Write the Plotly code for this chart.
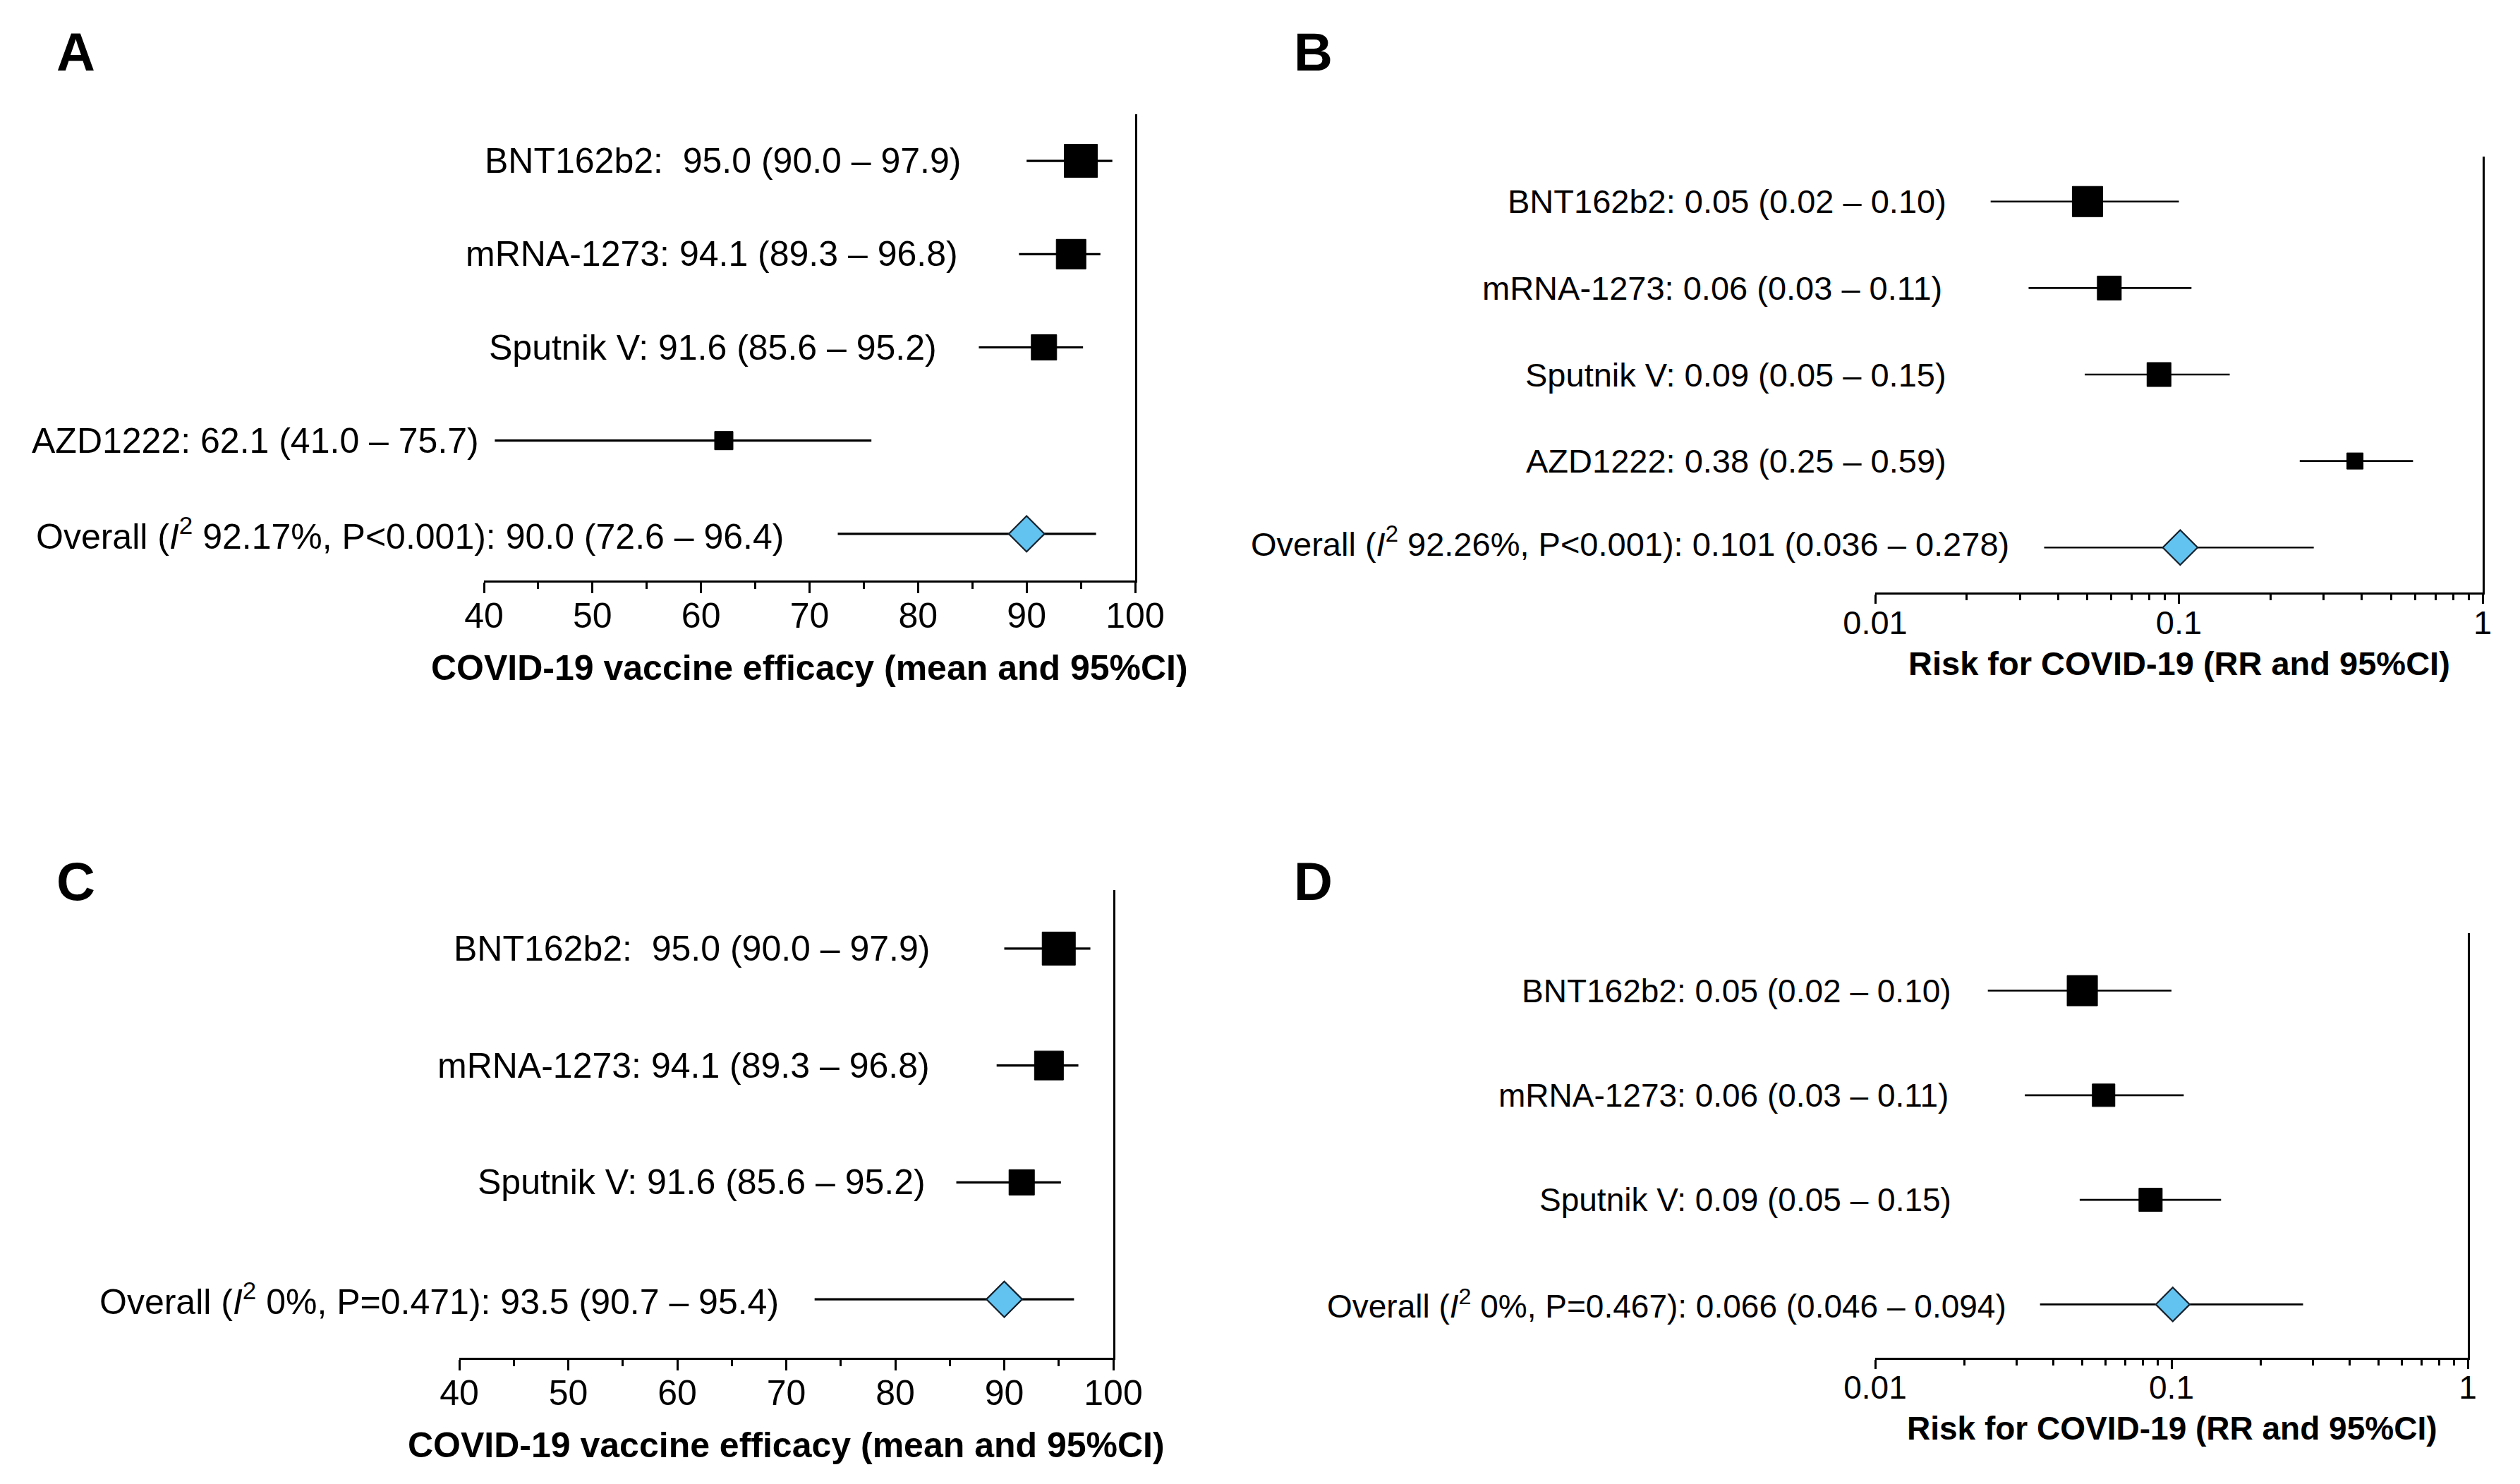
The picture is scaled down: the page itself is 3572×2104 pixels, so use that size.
import plotly.graph_objects as go

W, H = 3572, 2104
FONT = "Liberation Sans, Arial, Helvetica, sans-serif"

# ---------------- data ----------------
# Panel A: vaccine efficacy, all four vaccines
NAMES_A = ["BNT162b2", "mRNA-1273", "Sputnik V", "AZD1222", "Overall"]
MEAN_A = [95.0, 94.1, 91.6, 62.1, 90.0]
LO_A = [90.0, 89.3, 85.6, 41.0, 72.6]
HI_A = [97.9, 96.8, 95.2, 75.7, 96.4]
LABELS_A = [
    "BNT162b2:\u00a0 95.0 (90.0 \u2013 97.9)",
    "mRNA-1273: 94.1 (89.3 \u2013 96.8)",
    "Sputnik V: 91.6 (85.6 \u2013 95.2)",
    "AZD1222: 62.1 (41.0 \u2013 75.7)",
    "Overall (<i>I</i><sup>2</sup> 92.17%, P&lt;0.001): 90.0 (72.6 \u2013 96.4)",
]

# Panel B: risk ratio, all four vaccines
NAMES_B = ["BNT162b2", "mRNA-1273", "Sputnik V", "AZD1222", "Overall"]
MEAN_B = [0.050, 0.059, 0.086, 0.38, 0.101]
LO_B = [0.024, 0.032, 0.049, 0.25, 0.036]
HI_B = [0.10, 0.11, 0.147, 0.59, 0.278]
LABELS_B = [
    "BNT162b2: 0.05 (0.02 \u2013 0.10)",
    "mRNA-1273: 0.06 (0.03 \u2013 0.11)",
    "Sputnik V: 0.09 (0.05 \u2013 0.15)",
    "AZD1222: 0.38 (0.25 \u2013 0.59)",
    "Overall (<i>I</i><sup>2</sup> 92.26%, P&lt;0.001): 0.101 (0.036 \u2013 0.278)",
]

# Panel C: vaccine efficacy, without AZD1222
NAMES_C = ["BNT162b2", "mRNA-1273", "Sputnik V", "Overall"]
MEAN_C = [95.0, 94.1, 91.6, 90.0]
LO_C = [90.0, 89.3, 85.6, 72.6]
HI_C = [97.9, 96.8, 95.2, 96.4]
LABELS_C = [
    "BNT162b2:\u00a0 95.0 (90.0 \u2013 97.9)",
    "mRNA-1273: 94.1 (89.3 \u2013 96.8)",
    "Sputnik V: 91.6 (85.6 \u2013 95.2)",
    "Overall (<i>I</i><sup>2</sup> 0%, P=0.471): 93.5 (90.7 \u2013 95.4)",
]

# Panel D: risk ratio, without AZD1222
NAMES_D = ["BNT162b2", "mRNA-1273", "Sputnik V", "Overall"]
MEAN_D = [0.050, 0.059, 0.085, 0.101]
LO_D = [0.024, 0.032, 0.049, 0.036]
HI_D = [0.10, 0.11, 0.147, 0.278]
LABELS_D = [
    "BNT162b2: 0.05 (0.02 \u2013 0.10)",
    "mRNA-1273: 0.06 (0.03 \u2013 0.11)",
    "Sputnik V: 0.09 (0.05 \u2013 0.15)",
    "Overall (<i>I</i><sup>2</sup> 0%, P=0.467): 0.066 (0.046 \u2013 0.094)",
]

EFF_TICKS = [40, 50, 60, 70, 80, 90, 100]
RR_TICKS = [0.01, 0.1, 1]
RR_TICKTEXT = ["0.01", "0.1", "1"]
RR_MINOR = [0.02, 0.03, 0.04, 0.05, 0.06, 0.07, 0.08, 0.09,
            0.2, 0.3, 0.4, 0.5, 0.6, 0.7, 0.8, 0.9]

# ---------------- layout / style per panel ----------------
panels = [
    dict(key="A", names=NAMES_A, mean=MEAN_A, lo=LO_A, hi=HI_A, labels=LABELS_A,
         log=False, xdom=(686, 1609), ydom=(162, 823), yrange=(0.5, 5.5),
         sizes=[47, 42, 36, 26, 39], fs=50, title="COVID-19 vaccine efficacy (mean and 95%CI)",
         title_off=124, label_right=[1364, 1360, 1330, 681, 1113], lw=3.2,
         letter_xy=(78, 73), standoff=-11, overall_shift=0),
    dict(key="B", names=NAMES_B, mean=MEAN_B, lo=LO_B, hi=HI_B, labels=LABELS_B,
         log=True, xdom=(2658, 3519), ydom=(222, 840), yrange=(0.48, 5.52),
         sizes=[43, 34, 34, 23, 38], fs=47, title="Risk for COVID-19 (RR and 95%CI)",
         title_off=100, label_right=[2761, 2755, 2761, 2761, 2850], lw=2.6,
         letter_xy=(1832, 73), standoff=-13, overall_shift=8),
    dict(key="C", names=NAMES_C, mean=MEAN_C, lo=LO_C, hi=HI_C, labels=LABELS_C,
         log=False, xdom=(651, 1578), ydom=(1262, 1925), yrange=(0.5, 4.5),
         sizes=[47, 41, 36, 39], fs=50, title="COVID-19 vaccine efficacy (mean and 95%CI)",
         title_off=124, label_right=[1320, 1320, 1314, 1106], lw=3.2,
         letter_xy=(78, 1249), standoff=-11, overall_shift=0),
    dict(key="D", names=NAMES_D, mean=MEAN_D, lo=LO_D, hi=HI_D, labels=LABELS_D,
         log=True, xdom=(2658, 3498), ydom=(1323, 1925), yrange=(0.49, 4.55),
         sizes=[43, 32, 33, 37], fs=46, title="Risk for COVID-19 (RR and 95%CI)",
         title_off=100, label_right=[2768, 2764, 2768, 2846], lw=2.6,
         letter_xy=(1832, 1249), standoff=-13, overall_shift=0),
]

DIAMOND_FILL = "#62C3F0"

fig = go.Figure()
annotations = []
layout = {}

for i, p in enumerate(panels, start=1):
    xa = "x" if i == 1 else f"x{i}"
    ya = "y" if i == 1 else f"y{i}"
    n = len(p["names"])
    ypos = list(range(n, 0, -1))

    # CI lines
    lx, ly = [], []
    for lo, hi, yy in zip(p["lo"], p["hi"], ypos):
        lx += [lo, hi, None]
        ly += [yy, yy, None]
    fig.add_trace(go.Scatter(x=lx, y=ly, mode="lines", xaxis=xa, yaxis=ya,
                             line=dict(color="black", width=p["lw"]),
                             hoverinfo="skip", showlegend=False, cliponaxis=False))
    # study squares
    fig.add_trace(go.Scatter(x=p["mean"][:-1], y=ypos[:-1], mode="markers",
                             xaxis=xa, yaxis=ya, showlegend=False, cliponaxis=False,
                             marker=dict(symbol="square", size=p["sizes"][:-1],
                                         color="#000000", opacity=1,
                                         line=dict(width=1, color="#000000"))))
    # pooled diamond
    fig.add_trace(go.Scatter(x=[p["mean"][-1]], y=[ypos[-1]], mode="markers",
                             xaxis=xa, yaxis=ya, showlegend=False, cliponaxis=False,
                             marker=dict(symbol="diamond", size=p["sizes"][-1],
                                         color=DIAMOND_FILL, opacity=1,
                                         line=dict(width=2.2, color="#15202b"))))

    x0, x1 = p["xdom"]
    yt, yb = p["ydom"]
    xaxis = dict(domain=[x0 / W, x1 / W], anchor=ya, showgrid=False, zeroline=False,
                 automargin=False,
                 showline=True, linecolor="black", linewidth=3,
                 ticks="outside", ticklen=15, tickwidth=3, tickcolor="black",
                 ticklabelstandoff=p["standoff"],
                 tickfont=dict(family=FONT, size=p["fs"], color="black"),
                 fixedrange=True)
    if p["log"]:
        xaxis.update(type="log", range=[-2, 0], tickvals=RR_TICKS, ticktext=RR_TICKTEXT,
                     ticklen=13,
                     minor=dict(tickvals=RR_MINOR, ticks="outside", ticklen=8,
                                tickwidth=2.5, tickcolor="black", showgrid=False))
    else:
        xaxis.update(range=[40, 100], tickvals=EFF_TICKS,
                     minor=dict(dtick=5, ticks="outside", ticklen=9, tickwidth=3,
                                tickcolor="black", showgrid=False))
    yaxis = dict(domain=[1 - yb / H, 1 - yt / H], anchor=xa, side="right",
                 automargin=False,
                 range=list(p["yrange"]), showgrid=False, zeroline=False,
                 showline=True, linecolor="black", linewidth=2.6,
                 showticklabels=False, ticks="", fixedrange=True)
    layout[f"xaxis{'' if i == 1 else i}"] = xaxis
    layout[f"yaxis{'' if i == 1 else i}"] = yaxis

    # row labels
    for k, (lab, yy, xr) in enumerate(zip(p["labels"], ypos, p["label_right"])):
        ysh = p["overall_shift"] if k == n - 1 else 0
        annotations.append(dict(text=lab, xref="paper", x=xr / W, xanchor="right",
                                yref=ya, y=yy, yanchor="middle", yshift=ysh,
                                showarrow=False,
                                font=dict(family=FONT, size=p["fs"], color="black")))
    # axis title
    annotations.append(dict(text=f"<b>{p['title']}</b>", xref=f"{xa} domain", x=0.5,
                            xanchor="center", yref=f"{ya} domain", y=0, yanchor="middle",
                            yshift=-p["title_off"], showarrow=False,
                            font=dict(family=FONT, size=p["fs"], color="black")))
    # panel letter
    lxp, lyp = p["letter_xy"]
    annotations.append(dict(text=f"<b>{p['key']}</b>", xref="paper", x=lxp / W,
                            xanchor="left", yref="paper", y=1 - lyp / H, yanchor="middle",
                            showarrow=False,
                            font=dict(family=FONT, size=76, color="black")))

fig.update_layout(width=W, height=H,
                  margin=dict(l=0, r=0, t=0, b=0, pad=0, autoexpand=False),
                  paper_bgcolor="white", plot_bgcolor="white",
                  annotations=annotations, showlegend=False, **layout)

fig.write_html("out.html",
               config={"displayModeBar": False, "responsive": False},
               post_script="document.body.style.margin='0px';"
                           "document.body.style.overflow='hidden';")
